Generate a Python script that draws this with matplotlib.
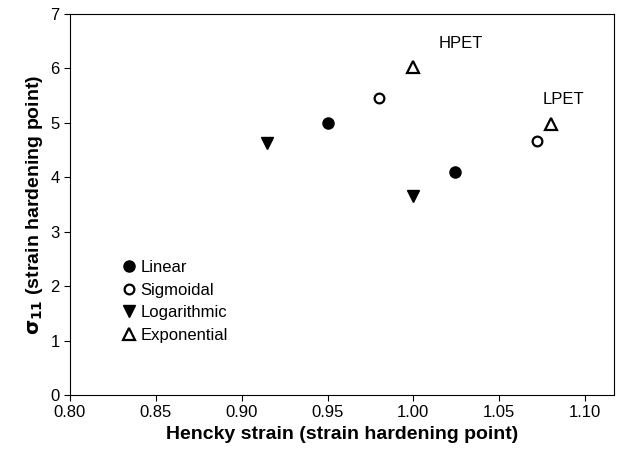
import matplotlib
matplotlib.use("Agg")
import matplotlib.pyplot as plt

plt.rcParams['font.family'] = ['Liberation Sans', 'DejaVu Sans']

linear_x = [0.95, 1.024]
linear_y = [5.0, 4.1]
sigmoidal_x = [0.98, 1.072]
sigmoidal_y = [5.45, 4.67]
log_x = [0.915, 1.0]
log_y = [4.63, 3.65]
exp_x = [1.0, 1.08]
exp_y = [6.02, 4.97]

xticks = [0.80, 0.85, 0.90, 0.95, 1.00, 1.05, 1.10]
yticks = [0, 1, 2, 3, 4, 5, 6, 7]

fig = plt.figure(figsize=(6.22, 4.62), dpi=100)
ax = fig.add_axes([0.1125, 0.145, 0.875, 0.825])

ax.plot(linear_x, linear_y, 'o', color='black', markersize=8, label='Linear', linestyle='none')
ax.plot(sigmoidal_x, sigmoidal_y, 'o', markerfacecolor='white', markeredgecolor='black',
        markeredgewidth=1.6, markersize=7, label='Sigmoidal', linestyle='none')
ax.plot(log_x, log_y, 'v', color='black', markersize=9, label='Logarithmic', linestyle='none')
ax.plot(exp_x, exp_y, '^', markerfacecolor='white', markeredgecolor='black',
        markeredgewidth=1.6, markersize=8, label='Exponential', linestyle='none')

ax.text(1.0275, 6.45, 'HPET', fontsize=12, ha='center', va='center')
ax.text(1.0875, 5.42, 'LPET', fontsize=12, ha='center', va='center')

ax.set_xlim(0.80, 1.117)
ax.set_ylim(0, 7)
ax.set_xticks(xticks)
ax.set_xticklabels([f'{v:.2f}' for v in xticks])
ax.set_yticks(yticks)
ax.tick_params(direction='out', labelsize=12, length=4, top=False, right=False)

ax.set_xlabel('Hencky strain (strain hardening point)', fontsize=14, fontweight='bold')
ax.set_ylabel(r'$\mathbf{\sigma_{11}}$ (strain hardening point)', fontsize=14, fontweight='bold')

leg = ax.legend(loc='lower left', bbox_to_anchor=(0.08, 0.12), frameon=False, fontsize=12,
                handletextpad=0.1, handlelength=1.1, labelspacing=0.45, borderaxespad=0)

fig.savefig('out.png', dpi=100)
